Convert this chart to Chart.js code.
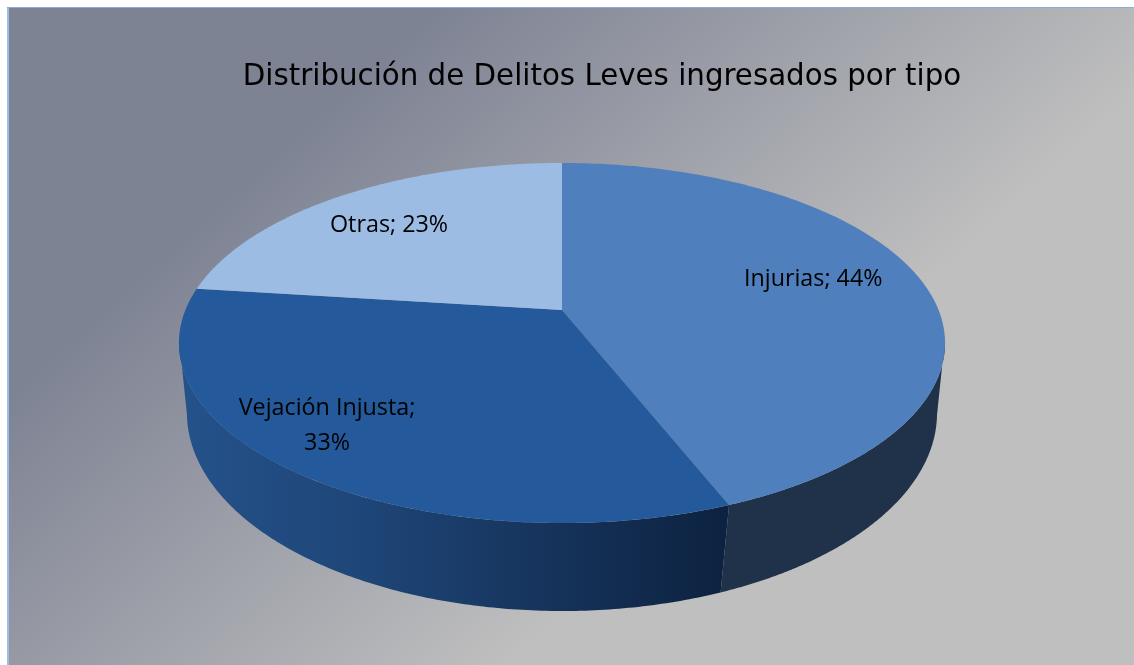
<!DOCTYPE html>
<html>
<head>
<meta charset="utf-8">
<title>Distribución de Delitos Leves</title>
<style>
  html, body { margin: 0; padding: 0; background: #fff; }
  #wrap { position: relative; width: 1134px; height: 665px; }
</style>
<script src="https://cdn.jsdelivr.net/npm/chart.js@4"></script>
</head>
<body>
<div id="wrap"><canvas id="myChart" width="1134" height="665"></canvas></div>
<script>
const titleText = "Distribución de Delitos Leves ingresados por tipo";
const categories = ["Injurias", "Vejación Injusta", "Otras"];
const values = [44, 33, 23];

// look of the slices
const topColors = ["#4f7fbc", "#24599b", "#9cbce4"];
const wallColors = [
  [[0, "#1f3249"], [1, "#1f3249"]],
  [[0, "#24528a"], [0.35, "#1e4577"], [0.7, "#153259"], [1, "#0d2240"]],
  [[0, "#5f7ea6"], [1, "#5f7ea6"]]
];
// where the labels sit inside their slice
const labelRadius = [0.713, 0.808, 0.737];
const labelShift = [-4, 5.8, -1.8];
const labelWrap = [false, true, false];

// 3D look: the round pie from Chart.js is stretched and tilted
const stretchX = 383 / 180;
const topRim = { tilt: -0.183, sx: 1, sy: 1, dy: 0 };
const lowRim = { tilt: -0.15, sx: 375 / 383, sy: 198 / 180, dy: 70 };
// the wall only shows on the front, between these two angles
const wallFrom = 9.2 * Math.PI / 180;
const wallTo = 170.8 * Math.PI / 180;

function rimPoint(el, angle, r, rim) {
  const px = Math.cos(angle) * r;
  const py = Math.sin(angle) * r;
  const w = 1 + rim.tilt * py;
  return {
    x: el.x + (px * Math.sqrt(1 - rim.tilt * rim.tilt) / w) * el.outerRadius * stretchX * rim.sx,
    y: el.y + rim.dy + ((py + rim.tilt) / w) * el.outerRadius * rim.sy
  };
}

function rimPoints(el, rim, from, to) {
  const pts = [];
  const n = 160;
  for (let i = 0; i <= n; i++) {
    pts.push(rimPoint(el, from + (to - from) * i / n, 1, rim));
  }
  return pts;
}

const pie3d = {
  id: "pie3d",
  beforeDraw(chart) {
    const ctx = chart.ctx;
    ctx.save();
    const bg = ctx.createLinearGradient(201, 222, 559, 618);
    bg.addColorStop(0, "#7e8394");
    bg.addColorStop(1, "#bfbfbf");
    ctx.fillStyle = bg;
    ctx.fillRect(8, 8, chart.width - 8, chart.height - 8);
    ctx.fillStyle = "#9dbde9";
    ctx.fillRect(7, 7, 2, chart.height - 7);
    ctx.fillStyle = "#8cabd8";
    ctx.fillRect(7, 7, chart.width - 7, 1);
    ctx.restore();
  },
  afterLayout(chart) {
    // the title is not centred over the pie in the picture
    chart.titleBlock.left += 40;
    chart.titleBlock.right += 40;
  },
  beforeDatasetsDraw(chart) {
    const ctx = chart.ctx;
    const arcs = chart.getDatasetMeta(0).data;
    ctx.save();
    // side walls first, tops go over them
    arcs.forEach((el, i) => {
      const from = Math.max(el.startAngle, wallFrom);
      const to = Math.min(el.endAngle, wallTo);
      if (to <= from) return;
      const top = rimPoints(el, topRim, from, to);
      const low = rimPoints(el, lowRim, from, to);
      const grad = ctx.createLinearGradient(el.x - 382, 0, el.x + 162, 0);
      wallColors[i].forEach(s => grad.addColorStop(s[0], s[1]));
      ctx.beginPath();
      top.forEach((p, k) => (k ? ctx.lineTo(p.x, p.y) : ctx.moveTo(p.x, p.y)));
      low.reverse().forEach(p => ctx.lineTo(p.x, p.y));
      ctx.closePath();
      ctx.fillStyle = grad;
      ctx.fill();
    });
    arcs.forEach((el, i) => {
      const apex = rimPoint(el, 0, 0, topRim);
      ctx.beginPath();
      ctx.moveTo(apex.x, apex.y);
      rimPoints(el, topRim, el.startAngle, el.endAngle).forEach(p => ctx.lineTo(p.x, p.y));
      ctx.closePath();
      ctx.fillStyle = topColors[i];
      ctx.fill();
    });
    ctx.restore();
    return false;
  },
  afterDraw(chart) {
    const ctx = chart.ctx;
    const arcs = chart.getDatasetMeta(0).data;
    ctx.save();
    ctx.fillStyle = "#000";
    ctx.font = '23.3px "Open Sans"';
    ctx.textAlign = "center";
    ctx.textBaseline = "middle";
    arcs.forEach((el, i) => {
      const mid = (el.startAngle + el.endAngle) / 2 + labelShift[i] * Math.PI / 180;
      const p = rimPoint(el, mid, labelRadius[i], topRim);
      if (labelWrap[i]) {
        ctx.fillText(categories[i] + ";", p.x, p.y - 16);
        ctx.fillText(values[i] + "%", p.x, p.y + 19);
      } else {
        ctx.fillText(categories[i] + "; " + values[i] + "%", p.x, p.y);
      }
    });
    ctx.restore();
  }
};

new Chart(document.getElementById("myChart").getContext("2d"), {
  type: "pie",
  data: {
    labels: categories,
    datasets: [{ data: values, backgroundColor: topColors, borderWidth: 0 }]
  },
  options: {
    responsive: false,
    animation: false,
    layout: { padding: { left: 0, right: 10, top: 0, bottom: 142 } },
    plugins: {
      legend: { display: false },
      tooltip: { enabled: false },
      title: {
        display: true,
        text: titleText,
        color: "#000",
        font: { family: '"DejaVu Sans"', size: 29.3, weight: "normal", lineHeight: 1.2 },
        padding: { top: 60, bottom: 67.8 }
      }
    }
  },
  plugins: [pie3d]
});
</script>
</body>
</html>
